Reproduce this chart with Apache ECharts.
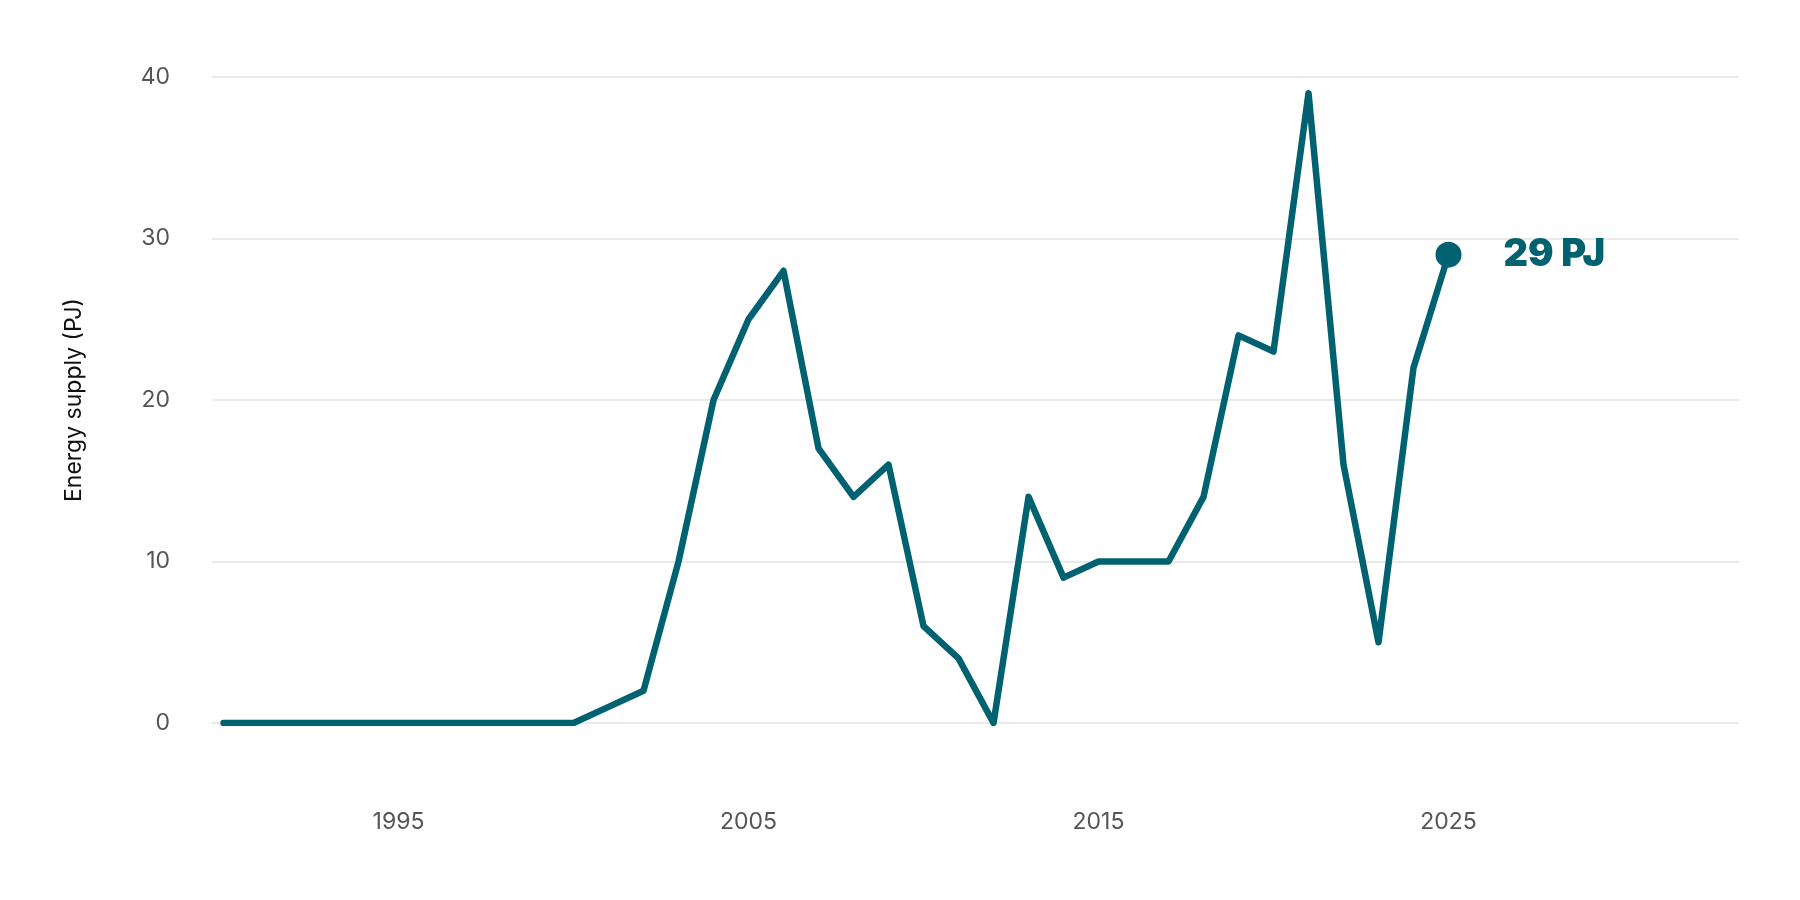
<!DOCTYPE html>
<html><head><meta charset="utf-8">
<script src="https://cdn.jsdelivr.net/npm/echarts@6/dist/echarts.min.js"></script>
<style>html,body{margin:0;padding:0;background:#fff}#c{width:1800px;height:900px}</style>
</head><body><div id="c"></div>
<script>
const years = [1990,1991,1992,1993,1994,1995,1996,1997,1998,1999,2000,2001,2002,2003,2004,2005,2006,2007,2008,2009,2010,2011,2012,2013,2014,2015,2016,2017,2018,2019,2020,2021,2022,2023,2024,2025];
const supply = [0,0,0,0,0,0,0,0,0,0,0,1,2,10,20,25,28,17,14,16,6,4,0,14,9,10,10,10,14,24,23,39,16,5,22,29];
const xTicks = [1995,2005,2015,2025];
const color = '#006270';
const font = 'Inter';
const chart = echarts.init(document.getElementById('c'));
const data = years.map((y,i)=>[y,supply[i]]);
const last = data[data.length-1];
chart.setOption({
  animation:false,
  grid:{left:212,right:61,top:77,bottom:177},
  xAxis:{type:'value',min:1989.67,max:2033.3,
    axisLine:{show:false},axisTick:{show:false},splitLine:{show:false},
    axisLabel:{customValues:xTicks,formatter:v=>String(v),margin:88,color:'#555',fontSize:23,fontFamily:font}},
  yAxis:{type:'value',min:0,max:40,interval:10,
    name:'Energy supply (PJ)',nameLocation:'middle',nameGap:126,nameRotate:90,
    nameTextStyle:{color:'#111',fontSize:23,fontFamily:font},
    axisLine:{show:false},axisTick:{show:false},
    splitLine:{lineStyle:{color:'#e3e3e3',width:1.5}},
    axisLabel:{margin:42,color:'#555',fontSize:23,fontFamily:font}},
  series:[
    {type:'line',data:data,showSymbol:false,lineStyle:{color:color,width:6.5,join:'round',cap:'round'},itemStyle:{color:color}},
    {type:'scatter',data:[last],symbolSize:26,itemStyle:{color:color,opacity:1},
     label:{show:true,position:'right',distance:42,formatter:()=>last[1]+' PJ',
       color:color,fontSize:38,fontWeight:900,fontFamily:font}}
  ]
});
</script></body></html>
